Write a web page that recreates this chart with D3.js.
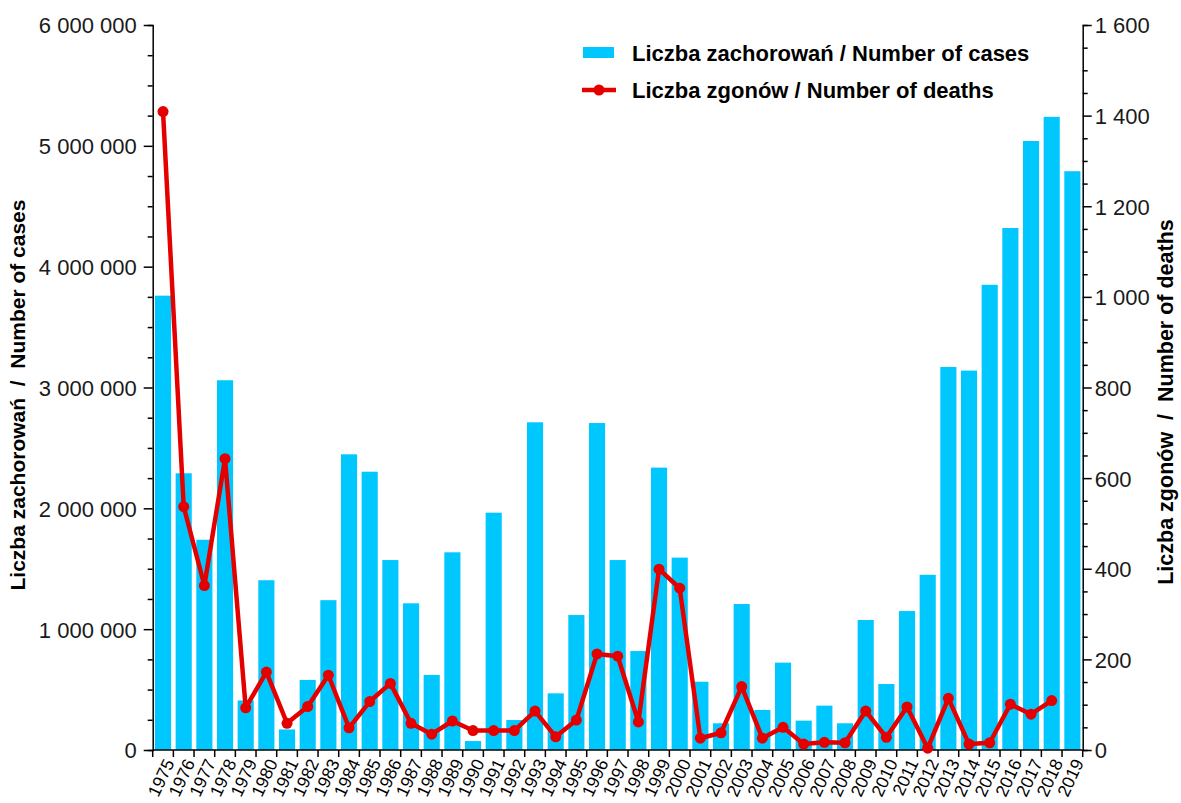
<!DOCTYPE html>
<html><head><meta charset="utf-8">
<script src="https://cdn.jsdelivr.net/npm/d3@7"></script>
<style>
html,body{margin:0;padding:0;background:#fff;}
svg{display:block;font-family:"Liberation Sans",Arial,sans-serif;}
</style></head>
<body>
<svg id="chart" width="1181" height="803"></svg>
<script>
const years = ["1975","1976","1977","1978","1979","1980","1981","1982","1983","1984","1985","1986","1987","1988","1989","1990","1991","1992","1993","1994","1995","1996","1997","1998","1999","2000","2001","2002","2003","2004","2005","2006","2007","2008","2009","2010","2011","2012","2013","2014","2015","2016","2017","2018","2019"];
const cases = [3760000,2290000,1740000,3060000,410000,1405000,170000,580000,1240000,2447000,2303000,1572000,1214000,621000,1636000,74000,1964000,248000,2712000,469000,1117000,2706000,1572000,819000,2337000,1592000,565000,221000,1208000,331000,723000,243000,367000,221000,1076000,546000,1150000,1450000,3170000,3140000,3850000,4320000,5040000,5240000,4790000];
const deaths = [1409,537,363,643,93,172,59,96,165,49,107,147,59,35,64,43,43,43,86,29,66,212,207,62,399,357,26,38,140,26,50,13,17,16,86,28,95,4,114,13,16,101,79,109,null];
const leftTicks = [0,1000000,2000000,3000000,4000000,5000000,6000000];
const rightTicks = [0,200,400,600,800,1000,1200,1400,1600];
const legendLabels = ["Liczba zachorowań / Number of cases","Liczba zgonów / Number of deaths"];
const leftTitle = "Liczba zachorowań  /  Number of cases";
const rightTitle = "Liczba zgonów  /  Number of deaths";

const barColor = "#00C8FF", lineColor = "#E50000";
const svg = d3.select("#chart");
const L = 152.7, R = 1082.7, T = 25, B = 750;

const x = d3.scaleBand().domain(years).range([L, R]).paddingInner(0.22).paddingOuter(0.11);
const yL = d3.scaleLinear().domain([0, 6000000]).range([B, T]);
const yR = d3.scaleLinear().domain([0, 1600]).range([B, T]);
const fmt = v => d3.format(",")(v).replace(/,/g, " ");

// bars
svg.append("g").selectAll("rect").data(years).join("rect")
  .attr("x", d => x(d)).attr("width", x.bandwidth())
  .attr("y", (d,i) => yL(cases[i])).attr("height", (d,i) => B - yL(cases[i]))
  .attr("fill", barColor);

// left axis
const gl = svg.append("g").attr("transform", `translate(${L},0)`);
gl.call(d3.axisLeft(yL).tickValues(d3.range(0, 6000001, 250000)).tickSize(5).tickFormat(""));
gl.call(g => g.selectAll(".tick").filter(d => d % 1000000 === 0).select("line").attr("x2", -9));
gl.selectAll(".tick text").remove();
gl.selectAll(".tick").filter(d => leftTicks.includes(d)).append("text")
  .attr("x", -16).attr("dy", "0.36em").attr("text-anchor", "end")
  .attr("fill", "#1a1a1a").style("font-size", "22px")
  .text(d => fmt(d));

// right axis
const gr = svg.append("g").attr("transform", `translate(${R},0)`);
gr.call(d3.axisRight(yR).tickValues(d3.range(0, 1601, 50)).tickSize(5).tickFormat(""));
gr.call(g => g.selectAll(".tick").filter(d => d % 200 === 0).select("line").attr("x2", 9));
gr.selectAll(".tick text").remove();
gr.selectAll(".tick").filter(d => rightTicks.includes(d)).append("text")
  .attr("x", 12).attr("dy", "0.36em").attr("text-anchor", "start")
  .attr("fill", "#1a1a1a").style("font-size", "22px")
  .text(d => fmt(d));

// x axis
const gx = svg.append("g").attr("transform", `translate(0,${B})`);
gx.append("line").attr("x1", L).attr("x2", R).attr("stroke", "#000").attr("stroke-width", 1.5);
const step = x.step();
const bounds = d3.range(years.length + 1).map(i => L + i * step);
gx.selectAll("line.tk").data(bounds).join("line").attr("class", "tk")
  .attr("x1", d => d).attr("x2", d => d).attr("y1", 0).attr("y2", 7).attr("stroke", "#000").attr("stroke-width", 1.5);
gx.selectAll("text").data(years).join("text")
  .attr("transform", d => `translate(${x(d) + x.bandwidth()/2 + 6},10) rotate(-65)`)
  .attr("text-anchor", "end").attr("dy", "0.36em")
  .style("font-size", "17.5px").attr("fill", "#000")
  .text(d => d);

[gl, gr].forEach(g => {
  g.select(".domain").attr("stroke", "#000").attr("stroke-width", 1.5);
  g.selectAll(".tick line").attr("stroke", "#000").attr("stroke-width", 1.5);
});

// line
const pts = years.map((d,i) => ({y: d, v: deaths[i]})).filter(p => p.v !== null);
svg.append("path").datum(pts)
  .attr("d", d3.line().x(p => x(p.y) + x.bandwidth()/2).y(p => yR(p.v)))
  .attr("fill", "none").attr("stroke", lineColor).attr("stroke-width", 4.5).attr("stroke-linejoin", "round");
svg.append("g").selectAll("circle").data(pts).join("circle")
  .attr("cx", p => x(p.y) + x.bandwidth()/2).attr("cy", p => yR(p.v)).attr("r", 5.5)
  .attr("fill", lineColor);

// axis titles
svg.append("text").attr("transform", `translate(25,395) rotate(-90)`)
  .attr("text-anchor", "middle").style("font-size", "21px").style("font-weight", "bold")
  .style("white-space", "pre").attr("xml:space", "preserve").text(leftTitle);
svg.append("text").attr("transform", `translate(1173,402) rotate(-90)`)
  .attr("text-anchor", "middle").style("font-size", "21.5px").style("font-weight", "bold")
  .style("white-space", "pre").attr("xml:space", "preserve").text(rightTitle);

// legend
const lg = svg.append("g");
lg.append("rect").attr("x", 583).attr("y", 47).attr("width", 31).attr("height", 11).attr("fill", barColor);
lg.append("line").attr("x1", 582).attr("x2", 616).attr("y1", 90).attr("y2", 90).attr("stroke", lineColor).attr("stroke-width", 4.5);
lg.append("circle").attr("cx", 599).attr("cy", 90).attr("r", 5.5).attr("fill", lineColor);
lg.selectAll("text").data(legendLabels).join("text")
  .attr("x", 632).attr("y", (d,i) => 53 + i * 37).attr("dy", "0.36em")
  .style("font-size", "22px").style("font-weight", "bold").attr("fill", "#000")
  .text(d => d);
</script>
</body></html>
